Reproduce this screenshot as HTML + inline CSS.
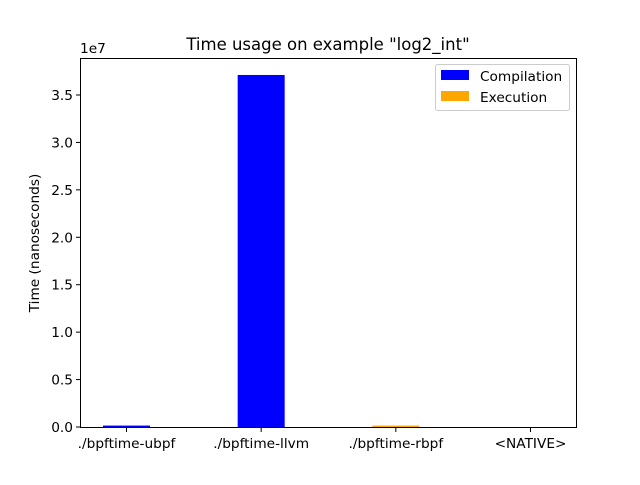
<!DOCTYPE html>
<html><head><meta charset="utf-8"><style>
html,body{margin:0;padding:0;background:#fff;}
svg text{font-family:"DejaVu Sans","Liberation Sans",sans-serif;fill:#000;}
</style></head><body>
<svg id="chart" width="640" height="480" xmlns="http://www.w3.org/2000/svg">
<rect width="640" height="480" fill="#fff"/>
<text x="328" y="50" font-size="16.5" text-anchor="middle">Time usage on example "log2_int"</text>
<text x="80" y="53" font-size="13.7">1e7</text>
<text transform="translate(39,243) rotate(-90)" font-size="13.7" text-anchor="middle">Time (nanoseconds)</text>
<g id="bars"></g>
<g id="yticks"></g>
<g id="xticks"></g>
<rect x="80.5" y="58.5" width="496" height="369" fill="none" stroke="#000" stroke-width="1"/>
<g>
<rect x="435.5" y="64.5" width="134" height="46" rx="2" fill="#fff" fill-opacity="0.8" stroke="#ccc"/>
<g>
<rect x="441" y="70" width="28" height="10" fill="#0000ff"/>
<text x="480" y="81" font-size="13.7">Compilation</text></g>
<g>
<rect x="441" y="91" width="28" height="10" fill="#ffa500"/>
<text x="480" y="102" font-size="13.7">Execution</text></g>
</g>
</svg>
<script>
const categories=["./bpftime-ubpf","./bpftime-llvm","./bpftime-rbpf","<NATIVE>"];
const compilation=[150000,37110000,0,0];
const execution=[0,0,150000,0];
const yTicks=[0,0.5e7,1e7,1.5e7,2e7,2.5e7,3e7,3.5e7];
const yTickLabels=["0.0","0.5","1.0","1.5","2.0","2.5","3.0","3.5"];
const NS="http://www.w3.org/2000/svg";
const x0=126.5,dx=134.67,bw=47;
function xs(i){return x0+i*dx;}
function ys(v){return 427-v*(47.43/0.5e7);}
function mk(t,a,p){const e=document.createElementNS(NS,t);for(const k in a)e.setAttribute(k,a[k]);p.appendChild(e);return e;}
const bars=document.getElementById('bars');
categories.forEach((c,i)=>{
  const cx=xs(i);
  const hc=ys(0)-ys(compilation[i]);
  const r1=mk('rect',{x:cx-bw/2,y:ys(compilation[i]),width:bw,height:hc,fill:'#0000ff'},bars);
  
  
  const he=ys(0)-ys(execution[i]);
  const r2=mk('rect',{x:cx-bw/2,y:ys(compilation[i]+execution[i]),width:bw,height:he,fill:'#ffa500'},bars);
  
  
});
const yt=document.getElementById('yticks');
yTicks.forEach((v,i)=>{
  const y=ys(v);
  const l=mk('line',{x1:76,x2:80,y1:y,y2:y,stroke:'#000'},yt);
  
  
  const t=mk('text',{x:73,y:y+5,'font-size':13.7,'text-anchor':'end'},yt);
  t.textContent=yTickLabels[i];
  
  
});
const xt=document.getElementById('xticks');
categories.forEach((c,i)=>{
  const x=xs(i);
  const l=mk('line',{x1:x,x2:x,y1:428,y2:432,stroke:'#000'},xt);
  
  
  const t=mk('text',{x:x,y:448,'font-size':13.7,'text-anchor':'middle'},xt);
  t.textContent=c;
  
  
});
</script>
</body></html>
